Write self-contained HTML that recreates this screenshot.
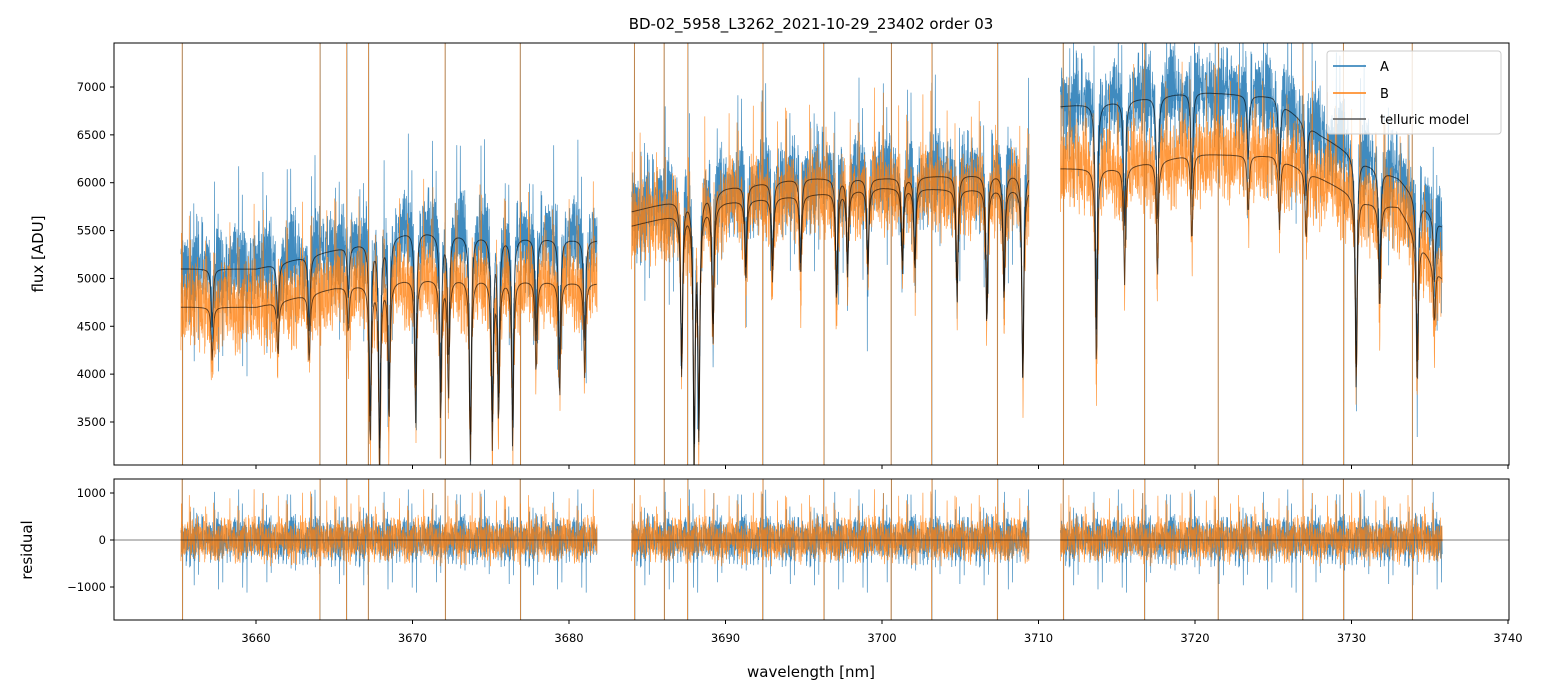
<!DOCTYPE html>
<html><head><meta charset="utf-8">
<style>
html,body{margin:0;padding:0;background:#fff;overflow:hidden;width:1544px;height:696px;}
svg{display:block;}
svg text{font-family:"DejaVu Sans","Liberation Sans",sans-serif;}
</style></head>
<body>
<svg id="chart" width="1544" height="696" viewBox="0 0 1544 696" xmlns="http://www.w3.org/2000/svg">
<defs>
<clipPath id="clipTop"><rect x="114" y="43" width="1395" height="422"/></clipPath>
<clipPath id="clipBot"><rect x="114" y="479" width="1395" height="141"/></clipPath>
</defs>
<text x="811" y="29" font-size="15" text-anchor="middle">BD-02_5958_L3262_2021-10-29_23402  order 03</text>
<g id="topg" clip-path="url(#clipTop)"></g>
<g id="botg" clip-path="url(#clipBot)"></g>
<rect x="114" y="43" width="1395" height="422" fill="none" stroke="#000" stroke-width="1"/>
<rect x="114" y="479" width="1395" height="141" fill="none" stroke="#000" stroke-width="1"/>
<g id="axes"></g>
<text x="0" y="0" font-size="15" text-anchor="middle" transform="translate(43,254) rotate(-90)">flux [ADU]</text>
<text x="0" y="0" font-size="15" text-anchor="middle" transform="translate(32,550) rotate(-90)">residual</text>
<text x="811" y="677" font-size="15" text-anchor="middle">wavelength [nm]</text>
<g>
<rect x="1327" y="51" width="174" height="83" rx="3" fill="#fff" fill-opacity="0.8" stroke="#ccc"/>
<line x1="1333" y1="66" x2="1366" y2="66" stroke="#1f77b4" stroke-width="1.5"/>
<text x="1380" y="71" font-size="13">A</text>
<line x1="1333" y1="93" x2="1366" y2="93" stroke="#ff7f0e" stroke-width="1.5"/>
<text x="1380" y="98" font-size="13">B</text>
<line x1="1333" y1="119" x2="1366" y2="119" stroke="#555" stroke-width="1.5"/>
<text x="1380" y="124" font-size="13">telluric model</text>
</g>
</svg>
<script>
const segments=[[3655.2,3681.8],[3684.0,3709.4],[3711.4,3735.8]];
const contWl=[3655,3660,3665,3670,3675,3681.8,3684,3690,3695,3700,3705,3709.4,3711.4,3715,3720,3725,3728,3731,3733,3735.8];
const contA=[5100,5100,5300,5500,5450,5400,5700,5950,6050,6050,6080,6100,6800,6850,6950,6900,6500,6200,6050,5550];
const contB=[4700,4700,4900,5000,5000,4950,5550,5800,5870,5950,5930,5950,6150,6150,6300,6280,6050,5800,5750,5000];
const lineWl=[3657.2,3661.4,3663.4,3665.9,3667.3,3667.9,3668.5,3670.2,3671.8,3672.3,3673.7,3675.1,3675.5,3676.4,3677.9,3679.4,3681.0,3687.2,3688.0,3688.3,3689.2,3691.3,3693.0,3694.8,3697.1,3697.8,3699.1,3701.3,3702.1,3704.8,3706.7,3707.8,3709.0,3713.7,3715.5,3717.6,3719.8,3723.4,3725.4,3727.1,3730.3,3731.8,3734.2,3735.3];
const lineDepth=[0.12,0.12,0.15,0.1,0.35,0.4,0.3,0.3,0.3,0.25,0.4,0.35,0.3,0.35,0.2,0.25,0.2,0.3,0.45,0.4,0.25,0.15,0.15,0.15,0.2,0.15,0.15,0.15,0.15,0.2,0.25,0.2,0.35,0.35,0.2,0.2,0.15,0.1,0.12,0.12,0.35,0.2,0.3,0.12];
const noise=[0.3,-0.6,0.9,-0.2,0.5,-0.9,0.1,0.7,-0.4,-0.8,0.6,0.2,-0.5,0.95,-0.1,0.4,-0.7,0.8,-0.3,0.05,-0.95,0.55,0.25,-0.45,0.75,-0.65,0.15,0.85,-0.35,-0.05,0.45,-0.75,0.65,-0.15,0.35,-0.85,0.9,-0.55,0.2,-0.25,0.6,-0.1,-0.7];
const spikes=[3655.3,3664.1,3665.8,3667.2,3672.1,3676.9,3684.2,3686.1,3687.6,3692.4,3696.3,3700.6,3703.2,3707.4,3711.6,3716.8,3721.5,3726.9,3729.5,3733.9];
const xTicks=[3660,3670,3680,3690,3700,3710,3720,3730,3740];
const yTicksTop=[3500,4000,4500,5000,5500,6000,6500,7000];
const yTicksBot=[-1000,0,1000];

const X=w=>256+(w-3660)*15.65;
const YT=v=>87+(7000-v)*0.09571;
const YB=v=>540-v*0.047;
function cont(w,arr){for(let i=0;i<contWl.length-1;i++){if(w<=contWl[i+1]){const t=(w-contWl[i])/(contWl[i+1]-contWl[i]);return arr[i]+t*(arr[i+1]-arr[i]);}}return arr[arr.length-1];}
function absorb(w){let s=0;for(let i=0;i<lineWl.length;i++){const d=(w-lineWl[i])/0.07;s+=lineDepth[i]/(1+d*d);}return Math.max(0.05,1-s);}
const NS="http://www.w3.org/2000/svg";
function mkPath(g,d,stroke,sw,op,name){const p=document.createElementNS(NS,'path');p.setAttribute('d',d);p.setAttribute('fill','none');p.setAttribute('stroke',stroke);p.setAttribute('stroke-width',sw);p.setAttribute('stroke-opacity',op);


g.appendChild(p);}
const topG=document.getElementById('topg'),botG=document.getElementById('botg');
function isSpike(w){for(const s of spikes)if(Math.abs(w-s)<0.012)return true;return false;}
function build(arr,amp,seed,stride){
 let d='',r='',m='';
 const L=noise.length;
 segments.forEach(([a,b])=>{let k=seed;let first=true;
  for(let w=a;w<=b;w+=0.012){k++;
   const mv=cont(w,arr)*absorb(w);
   const n1=noise[(k*stride)%L],n2=noise[(Math.floor(k/7)*13+seed)%L],n3=noise[(Math.floor(k/3)*5+k)%L];
   let n=(n1*0.7+n2*0.3+n3*0.45)*amp;
   if(n1*n3>0.6) n*=1.7;
   let v=mv+n; if(isSpike(w+seed*0.003))v=(k%2?9000:1000);
   const x=X(w).toFixed(1);
   d+=(first?'M':'L')+x+','+YT(v).toFixed(1);
   r+=(first?'M':'L')+x+','+YB(v-mv).toFixed(1);
   if(first||k%4==0) m+=(first?'M':'L')+x+','+YT(mv).toFixed(1);
   first=false;}
 });
 return {d,r,m};
}
const SA=build(contA,500,0,7);
const SB=build(contB,500,5,11);
mkPath(topG,SA.d,'#1f77b4',0.7,0.85,'series-a-line');
mkPath(topG,SB.d,'#ff7f0e',0.7,0.8,'series-b-line');
mkPath(topG,SA.m,'#000',1,0.6,'telluric-model-a');
mkPath(topG,SB.m,'#000',1,0.6,'telluric-model-b');
mkPath(botG,SA.r,'#1f77b4',0.7,0.85,'residual-a-line');
mkPath(botG,SB.r,'#ff7f0e',0.7,0.8,'residual-b-line');
const zl=document.createElementNS(NS,'line');zl.setAttribute('x1',114);zl.setAttribute('x2',1509);zl.setAttribute('y1',YB(0));zl.setAttribute('y2',YB(0));zl.setAttribute('stroke','#000');zl.setAttribute('stroke-width',0.5);


botG.appendChild(zl);
const ax=document.getElementById('axes');
function tl(x1,y1,x2,y2){const l=document.createElementNS(NS,'line');l.setAttribute('x1',x1);l.setAttribute('y1',y1);l.setAttribute('x2',x2);l.setAttribute('y2',y2);l.setAttribute('stroke','#000');


ax.appendChild(l);}
function tx(x,y,s,anchor){const t=document.createElementNS(NS,'text');t.setAttribute('x',x);t.setAttribute('y',y);t.setAttribute('font-size','11.5');t.setAttribute('text-anchor',anchor);t.textContent=s;


ax.appendChild(t);}
xTicks.forEach(v=>{const x=X(v);tl(x,465,x,469);tl(x,620,x,624);tx(x,642,v,'middle');});
yTicksTop.forEach(v=>{const y=YT(v);tl(110,y,114,y);tx(106,y+4,v,'end');});
yTicksBot.forEach(v=>{const y=YB(v);tl(110,y,114,y);tx(106,y+4,v<0?'\u2212'+(-v):v,'end');});
</script>
</body></html>
